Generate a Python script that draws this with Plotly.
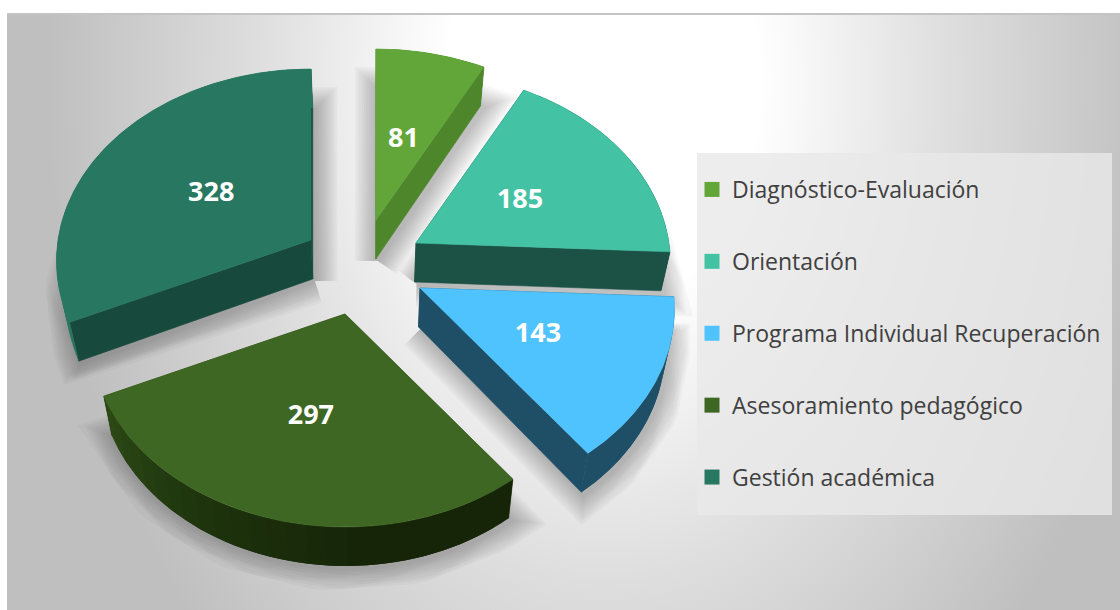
import base64
import math
import plotly.graph_objects as go

# ---- data ----
categories = ["Diagnóstico-Evaluación", "Orientación", "Programa Individual Recuperación",
              "Asesoramiento pedagógico", "Gestión académica"]
values = [81, 185, 143, 297, 328]

# ---- style ----
top_colors = ["#62A639", "#43C2A4", "#4FC3FD", "#3F6724", "#287861"]
wall_colors = ["#4E862C", "#1C5246", "#1E4F66", "#2A4512", "#174A3D"]
rim_colors = [["#4E862C", "#4E862C"], ["#1C5246", "#1C5246"], ["#1E4F66", "#1E4F66"],
              ["#162508", "#162508", "#1E340D", "#2D4A15"], ["#28765F", "#28765F"]]
apex_px = [(376, 220), (416, 243), (420, 288), (345, 314), (311, 240)]
DEPTH = 39
W, H = 1120, 610
SHRINK, SHRINK_C = 0.03, 370


def project(apex, deg):
    a = math.radians(deg)
    return (apex[0] + math.sin(a) * (253 - 28 * math.cos(a)),
            apex[1] - math.cos(a) * (192 - 21 * math.cos(a)))


def lower(p):
    return (p[0] + (SHRINK_C - p[0]) * SHRINK, p[1] + DEPTH)


def mix(stops, t):
    pos = t * (len(stops) - 1)
    i = min(int(pos), len(stops) - 2)
    f = pos - i
    a = [int(stops[i][k:k + 2], 16) for k in (1, 3, 5)]
    b = [int(stops[i + 1][k:k + 2], 16) for k in (1, 3, 5)]
    return "rgb(%d,%d,%d)" % tuple(round(u + (v - u) * f) for u, v in zip(a, b))


def poly(pts, color, line=True):
    xs = [p[0] for p in pts] + [pts[0][0]]
    ys = [p[1] for p in pts] + [pts[0][1]]
    return go.Scatter(x=xs, y=ys, mode="lines", fill="toself", fillcolor=color,
                      line=dict(color=color if line else "rgba(0,0,0,0)", width=0.6 if line else 0),
                      hoverinfo="skip", showlegend=False)


total = sum(values)
spans = []
start = 0.0
for v in values:
    spans.append((start, start + v / total * 360))
    start += v / total * 360

fig = go.Figure()

# soft shadows: stacked translucent strokes around each slice's lower face
for i, (a0, a1) in enumerate(spans):
    n = max(8, int((a1 - a0) / 2))
    arc = [project(apex_px[i], a0 + (a1 - a0) * k / n) for k in range(n + 1)]
    lo = [lower(apex_px[i])] + [lower(p) for p in arc]
    xs = [p[0] + 2 for p in lo] + [lo[0][0] + 2]
    ys = [p[1] + 2 for p in lo] + [lo[0][1] + 2]
    for s in range(10):
        fig.add_trace(go.Scatter(x=xs, y=ys, mode="lines", hoverinfo="skip", showlegend=False,
                                 line=dict(color="rgba(60,60,60,0.035)", width=5 + s * 4.5)))

# slice bodies
for i, (a0, a1) in enumerate(spans):
    apex = apex_px[i]
    p0, p1 = project(apex, a0), project(apex, a1)
    for edge in (p0, p1):
        fig.add_trace(poly([apex, edge, lower(edge), lower(apex)], wall_colors[i]))
    n = max(6, int((a1 - a0) / 4))
    # rim bands overlap the next one so no seams show
    for k in range(n):
        d0 = a0 + (a1 - a0) * k / n
        d1 = a0 + (a1 - a0) * min(k + 2, n) / n
        q = [project(apex, d0 + (d1 - d0) * j / 4) for j in range(5)]
        fig.add_trace(poly(q + [lower(u) for u in reversed(q)], mix(rim_colors[i], (k + 0.5) / n), line=False))
    m = max(24, int((a1 - a0) * 2))
    arc = [project(apex, a0 + (a1 - a0) * k / m) for k in range(m + 1)]
    fig.add_trace(poly([apex] + arc, top_colors[i]))

# data labels at half radius of each slice
lx, ly = [], []
for i, (a0, a1) in enumerate(spans):
    mid = (a0 + a1) / 2
    p = project(apex_px[i], mid)
    lx.append((p[0] + apex_px[i][0]) / 2)
    ly.append((p[1] + apex_px[i][1]) / 2 + 2 * (1 + math.cos(math.radians(mid))))
fig.add_trace(go.Scatter(x=lx, y=ly, mode="text", text=[str(v) for v in values],
                         textposition="middle center",
                         textfont=dict(family="Open Sans", size=27, color="white", weight="bold"),
                         hoverinfo="skip", showlegend=False))

# legend entries
for i, c in enumerate(categories):
    fig.add_trace(go.Scatter(x=[None], y=[None], mode="markers", name=c, legendgroup=c,
                             marker=dict(symbol="square", size=15, color=top_colors[i])))

svg = f"""<svg xmlns='http://www.w3.org/2000/svg' width='{W}' height='{H}'>
<defs><radialGradient id='g' gradientUnits='userSpaceOnUse' cx='0' cy='0' r='1'
 gradientTransform='translate(600 70) scale(560 820)'>
<stop offset='0' stop-color='#ffffff'/><stop offset='0.28' stop-color='#ffffff'/>
<stop offset='0.62' stop-color='#dedede'/><stop offset='1' stop-color='#bfbfbf'/>
</radialGradient></defs>
<rect x='0' y='0' width='{W}' height='{H}' fill='url(#g)'/></svg>"""
bg = "data:image/svg+xml;base64," + base64.b64encode(svg.encode()).decode()

fig.update_layout(
    width=W, height=H, autosize=False,
    margin=dict(l=0, r=0, t=0, b=0),
    paper_bgcolor="white", plot_bgcolor="rgba(0,0,0,0)",
    xaxis=dict(range=[0, W], visible=False, fixedrange=True),
    yaxis=dict(range=[H, 0], visible=False, fixedrange=True),
    images=[dict(source=bg, xref="paper", yref="paper", x=7 / W, y=1 - 15 / H,
                 sizex=(W - 7) / W, sizey=(H - 15) / H,
                 sizing="stretch", layer="below", xanchor="left", yanchor="top")],
    shapes=[
        dict(type="rect", xref="x", yref="y", x0=697, x1=1112, y0=153, y1=515,
             fillcolor="rgba(232,232,232,0.8)", line_width=0, layer="below"),
        dict(type="line", xref="x", yref="y", x0=7, x1=1120, y0=14, y1=14,
             line=dict(color="#c4c4c4", width=2)),
    ],
    legend=dict(x=692 / W, y=1 - 168 / H, xanchor="left", yanchor="top",
                bgcolor="rgba(0,0,0,0)", tracegroupgap=39, itemclick=False, itemdoubleclick=False,
                font=dict(family="Open Sans", size=23, color="#404040")),
    showlegend=True,
)

fig.write_html("out.html", config=dict(displayModeBar=False),
               post_script="document.body.style.margin='0';document.documentElement.style.overflow='hidden';")
